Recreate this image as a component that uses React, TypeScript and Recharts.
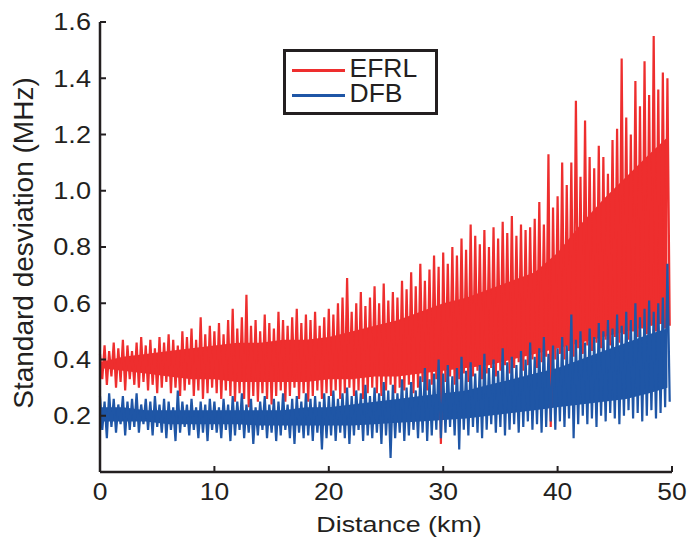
import React from 'react';
import { ComposedChart, Line, Area, XAxis, YAxis, Legend, Label } from 'recharts';

// sampled every 0.4 km: peak at k*0.4, trough at k*0.4 + 0.2
const SAMPLE_STEP = 0.4;

const efrlPeaks = [
  0.42, 0.45, 0.43, 0.46, 0.44, 0.47, 0.45, 0.43, 0.46, 0.48, 0.45, 0.47, 0.44, 0.48, 0.46, 0.49, 0.47, 0.45, 0.5, 0.48, 0.51, 0.47, 0.55, 0.49, 0.52,
  0.5, 0.53, 0.49, 0.54, 0.58, 0.51, 0.55, 0.63, 0.52, 0.54, 0.5, 0.56, 0.53, 0.51, 0.57, 0.54, 0.52, 0.55, 0.58, 0.53, 0.56, 0.54, 0.57, 0.52, 0.55,
  0.58, 0.56, 0.6, 0.62, 0.69, 0.57, 0.6, 0.64, 0.59, 0.62, 0.66, 0.6, 0.67, 0.61, 0.64, 0.62, 0.68, 0.65, 0.71, 0.66, 0.74, 0.68, 0.72, 0.77, 0.73,
  0.78, 0.74, 0.8, 0.77, 0.83, 0.79, 0.88, 0.84, 0.81, 0.86, 0.8, 0.87, 0.83, 0.89, 0.85, 0.91, 0.84, 0.88, 0.86, 0.87, 0.9, 0.96, 0.88, 1.13, 0.94,
  0.98, 1.1, 1.02, 1.1, 1.32, 1.05, 1.25, 1.12, 1.08, 1.16, 1.12, 1.06, 1.18, 1.22, 1.47, 1.26, 1.2, 1.39, 1.3, 1.46, 1.34, 1.55, 1.36, 1.42, 1.4,
];

const efrlTroughs = [
  0.33, 0.31, 0.34, 0.3, 0.32, 0.29, 0.33, 0.31, 0.3, 0.32, 0.29, 0.31, 0.28, 0.3, 0.32, 0.28, 0.3, 0.27, 0.29, 0.31, 0.27, 0.29, 0.26, 0.28, 0.3,
  0.28, 0.26, 0.29, 0.27, 0.25, 0.28, 0.26, 0.23, 0.27, 0.25, 0.28, 0.26, 0.24, 0.27, 0.29, 0.25, 0.27, 0.3, 0.26, 0.28, 0.25, 0.27, 0.29, 0.26, 0.28,
  0.27, 0.29, 0.26, 0.28, 0.3, 0.27, 0.29, 0.26, 0.28, 0.3, 0.28, 0.27, 0.29, 0.31, 0.28, 0.3, 0.29, 0.31, 0.28, 0.3, 0.32, 0.29, 0.31, 0.33, 0.1,
  0.32, 0.34, 0.31, 0.33, 0.35, 0.32, 0.34, 0.36, 0.33, 0.35, 0.37, 0.34, 0.36, 0.38, 0.35, 0.37, 0.39, 0.36, 0.38, 0.4, 0.37, 0.39, 0.41, 0.16, 0.4,
  0.42, 0.4, 0.43, 0.41, 0.44, 0.42, 0.45, 0.43, 0.46, 0.44, 0.47, 0.45, 0.48, 0.46, 0.49, 0.47, 0.5, 0.48, 0.51, 0.49, 0.52, 0.5, 0.53, 0.51, 0.52,
];

const dfbPeaks = [
  0.27, 0.25, 0.28, 0.26, 0.24, 0.27, 0.25, 0.26, 0.28, 0.24, 0.26, 0.25, 0.27, 0.24, 0.26, 0.25, 0.23, 0.29, 0.25, 0.24, 0.26, 0.23, 0.25, 0.24, 0.26,
  0.25, 0.23, 0.26, 0.24, 0.27, 0.25, 0.28, 0.24, 0.26, 0.23, 0.25, 0.27, 0.24, 0.26, 0.25, 0.28, 0.24, 0.26, 0.27, 0.25, 0.28, 0.26, 0.27, 0.25, 0.28,
  0.27, 0.29, 0.26, 0.28, 0.3, 0.27, 0.29, 0.28, 0.31, 0.27, 0.3, 0.28, 0.32, 0.29, 0.31, 0.28, 0.33, 0.3, 0.32, 0.29, 0.34, 0.37, 0.33, 0.35, 0.4,
  0.35, 0.38, 0.34, 0.37, 0.41, 0.36, 0.39, 0.35, 0.38, 0.42, 0.37, 0.4, 0.36, 0.44, 0.39, 0.41, 0.38, 0.43, 0.4, 0.46, 0.41, 0.44, 0.48, 0.42, 0.45,
  0.44, 0.48, 0.45, 0.56, 0.47, 0.5, 0.46, 0.51, 0.48, 0.53, 0.5, 0.54, 0.51, 0.56, 0.52, 0.57, 0.54, 0.6, 0.55, 0.58, 0.61, 0.57, 0.6, 0.62, 0.74,
];

const dfbTroughs = [
  0.15, 0.12, 0.16, 0.14, 0.17, 0.13, 0.15, 0.16, 0.14, 0.17, 0.15, 0.13, 0.16, 0.14, 0.12, 0.15, 0.11, 0.14, 0.16, 0.13, 0.15, 0.12, 0.14, 0.11, 0.15,
  0.14, 0.12, 0.15, 0.11, 0.13, 0.15, 0.12, 0.14, 0.1, 0.13, 0.15, 0.12, 0.14, 0.11, 0.13, 0.15, 0.12, 0.1, 0.14, 0.12, 0.13, 0.11, 0.14, 0.08, 0.12,
  0.13, 0.11, 0.14, 0.12, 0.1, 0.13, 0.15, 0.11, 0.13, 0.12, 0.14, 0.1, 0.13, 0.05, 0.12, 0.14, 0.11, 0.13, 0.15, 0.12, 0.14, 0.11, 0.13, 0.15, 0.12,
  0.14, 0.16, 0.13, 0.08, 0.15, 0.13, 0.16, 0.14, 0.12, 0.15, 0.17, 0.14, 0.16, 0.13, 0.15, 0.17, 0.14, 0.16, 0.18, 0.15, 0.17, 0.14, 0.16, 0.18, 0.15,
  0.18, 0.16, 0.19, 0.12, 0.17, 0.2, 0.17, 0.19, 0.16, 0.2, 0.18, 0.21, 0.19, 0.17, 0.2, 0.22, 0.19, 0.21, 0.18, 0.2, 0.22, 0.19, 0.21, 0.23, 0.25,
];

// dense (solid) part of each band, read every 2 km
const coreDistances = [0, 2, 4, 6, 8, 10, 12, 14, 16, 18, 20, 22, 24, 26, 28, 30, 32, 34, 36, 38, 40, 42, 44, 46, 48, 49.6];
const efrlCoreLow = [0.37, 0.36, 0.35, 0.34, 0.33, 0.33, 0.32, 0.32, 0.32, 0.32, 0.33, 0.33, 0.34, 0.34, 0.35, 0.36, 0.37, 0.38, 0.4, 0.42, 0.44, 0.46, 0.48, 0.5, 0.52, 0.53];
const efrlCoreHigh = [0.39, 0.41, 0.42, 0.43, 0.44, 0.45, 0.46, 0.46, 0.47, 0.47, 0.48, 0.5, 0.52, 0.54, 0.57, 0.6, 0.62, 0.65, 0.68, 0.71, 0.78, 0.88, 0.97, 1.05, 1.13, 1.19];
const dfbCoreLow = [0.18, 0.18, 0.18, 0.17, 0.17, 0.17, 0.17, 0.165, 0.165, 0.165, 0.165, 0.165, 0.17, 0.175, 0.18, 0.185, 0.19, 0.2, 0.21, 0.22, 0.23, 0.24, 0.25, 0.26, 0.28, 0.3];
const dfbCoreHigh = [0.23, 0.23, 0.22, 0.22, 0.22, 0.22, 0.22, 0.22, 0.22, 0.23, 0.23, 0.24, 0.25, 0.26, 0.27, 0.28, 0.29, 0.31, 0.33, 0.35, 0.37, 0.4, 0.43, 0.46, 0.49, 0.51];

const seriesNames = ['EFRL', 'DFB'];
const xTicks = [0, 10, 20, 30, 40, 50];
const yTicks = [0.2, 0.4, 0.6, 0.8, 1.0, 1.2, 1.4, 1.6];

const RED = '#ee2e2e';
const BLUE = '#1f56a6';
const INK = '#231f20';
const FONT = '"Liberation Sans", Arial, sans-serif';

const rows: any[] = efrlPeaks.flatMap((_, k) => [
  { d: k * SAMPLE_STEP, efrl: efrlPeaks[k], dfb: dfbPeaks[k] },
  { d: k * SAMPLE_STEP + SAMPLE_STEP / 2, efrl: efrlTroughs[k], dfb: dfbTroughs[k] },
]);
coreDistances.forEach((d, i) => {
  const core = { efrlCore: [efrlCoreLow[i], efrlCoreHigh[i]], dfbCore: [dfbCoreLow[i], dfbCoreHigh[i]] };
  const row = rows.find((r) => Math.abs(r.d - d) < 1e-6);
  if (row) Object.assign(row, core);
  else rows.push({ d, ...core });
});
const data = rows.sort((a, b) => a.d - b.d);

const TICK_LEN = 6;

function WideText({ x, y, size, sx = 1, anchor, children }: any) {
  return (
    <text
      transform={`translate(${x},${y}) scale(${sx},1)`}
      textAnchor={anchor}
      fontSize={size}
      fontFamily={FONT}
      fill={INK}
    >
      {children}
    </text>
  );
}

const BottomTick = ({ x, y, payload }: any) => (
  <g>
    <line x1={x} x2={x} y1={y} y2={y - TICK_LEN} stroke={INK} strokeWidth={2} />
    <WideText x={x} y={y + 28} size={23} sx={1.15} anchor="middle">
      {payload.value}
    </WideText>
  </g>
);

const TopTick = ({ x, y }: any) => (
  <line x1={x} x2={x} y1={y} y2={y + TICK_LEN} stroke={INK} strokeWidth={2} />
);

const LeftTick = ({ x, y, payload }: any) => (
  <g>
    <line x1={x} x2={x + TICK_LEN} y1={y} y2={y} stroke={INK} strokeWidth={2} />
    <WideText x={x - 9} y={y + 8.4} size={23} sx={1.18} anchor="end">
      {Number(payload.value).toFixed(1)}
    </WideText>
  </g>
);

const RightTick = ({ x, y }: any) => (
  <line x1={x} x2={x - TICK_LEN} y1={y} y2={y} stroke={INK} strokeWidth={2} />
);

const XTitle = ({ viewBox }: any) => (
  <WideText x={viewBox.x + viewBox.width / 2 + 13} y={viewBox.y + 60} size={22} sx={1.22} anchor="middle">
    Distance (km)
  </WideText>
);

const YTitle = ({ viewBox }: any) => (
  <text
    transform={`translate(${viewBox.x + 33},${viewBox.y + viewBox.height / 2 - 4}) rotate(-90)`}
    textAnchor="middle"
    fontSize={28}
    fontFamily={FONT}
    fill={INK}
  >
    Standard desviation (MHz)
  </text>
);

const LegendBox = ({ payload }: any) => {
  const items = seriesNames
    .map((name) => (payload || []).find((p: any) => p.value === name))
    .filter(Boolean);
  return (
    <div
      style={{
        position: 'relative',
        width: 155,
        height: 66,
        boxSizing: 'border-box',
        border: `3px solid ${INK}`,
        background: '#fff',
        fontFamily: FONT,
        fontSize: 26.5,
        color: INK,
      }}
    >
      {items.map((entry: any, i: number) => (
        <React.Fragment key={entry.value}>
          <div
            style={{
              position: 'absolute',
              left: 5.5,
              top: 17.2 + i * 25,
              width: 53,
              height: 3,
              background: entry.color,
            }}
          />
          <div
            style={{
              position: 'absolute',
              left: 63.5,
              top: 5.1 + i * 24.4,
              height: 22,
              lineHeight: '22px',
              whiteSpace: 'nowrap',
            }}
          >
            {entry.value}
          </div>
        </React.Fragment>
      ))}
    </div>
  );
};

export default function App() {
  return (
    <div style={{ position: 'absolute', left: 0, top: 0, background: '#fff' }}>
      <ComposedChart width={687} height={539} data={data} margin={{ top: 22, right: 15, bottom: 0, left: 0 }}>
        <XAxis
          dataKey="d"
          type="number"
          domain={[0, 50]}
          ticks={xTicks}
          height={67}
          tickSize={0}
          tickMargin={0}
          tickLine={false}
          axisLine={{ stroke: INK, strokeWidth: 2.5 }}
          tick={<BottomTick />}
          interval={0}
        >
          <Label content={<XTitle />} />
        </XAxis>
        <XAxis
          xAxisId="top"
          orientation="top"
          dataKey="d"
          type="number"
          domain={[0, 50]}
          ticks={xTicks}
          height={0}
          tickSize={0}
          tickMargin={0}
          tickLine={false}
          axisLine={{ stroke: INK, strokeWidth: 2.5 }}
          tick={<TopTick />}
          interval={0}
        />
        <YAxis
          type="number"
          domain={[0, 1.6]}
          ticks={yTicks}
          width={100}
          tickSize={0}
          tickMargin={0}
          tickLine={false}
          axisLine={{ stroke: INK, strokeWidth: 2.5 }}
          tick={<LeftTick />}
          interval={0}
        >
          <Label content={<YTitle />} />
        </YAxis>
        <YAxis
          yAxisId="right"
          orientation="right"
          type="number"
          domain={[0, 1.6]}
          ticks={yTicks}
          width={0}
          tickSize={0}
          tickMargin={0}
          tickLine={false}
          axisLine={{ stroke: INK, strokeWidth: 2.5 }}
          tick={<RightTick />}
          interval={0}
        />
        <Legend
          layout="vertical"
          align="center"
          verticalAlign="middle"
          wrapperStyle={{ left: 283, top: 49, width: 155, height: 66 }}
          content={<LegendBox />}
        />
        <Area
          type="linear"
          dataKey="efrlCore"
          stroke="none"
          fill={RED}
          fillOpacity={1}
          connectNulls
          legendType="none"
          isAnimationActive={false}
        />
        <Line
          type="linear"
          dataKey="efrl"
          name="EFRL"
          stroke={RED}
          strokeWidth={2.2}
          dot={false}
          connectNulls
          isAnimationActive={false}
        />
        <Area
          type="linear"
          dataKey="dfbCore"
          stroke="none"
          fill={BLUE}
          fillOpacity={1}
          connectNulls
          legendType="none"
          isAnimationActive={false}
        />
        <Line
          type="linear"
          dataKey="dfb"
          name="DFB"
          stroke={BLUE}
          strokeWidth={2.2}
          dot={false}
          connectNulls
          isAnimationActive={false}
        />
      </ComposedChart>
    </div>
  );
}
